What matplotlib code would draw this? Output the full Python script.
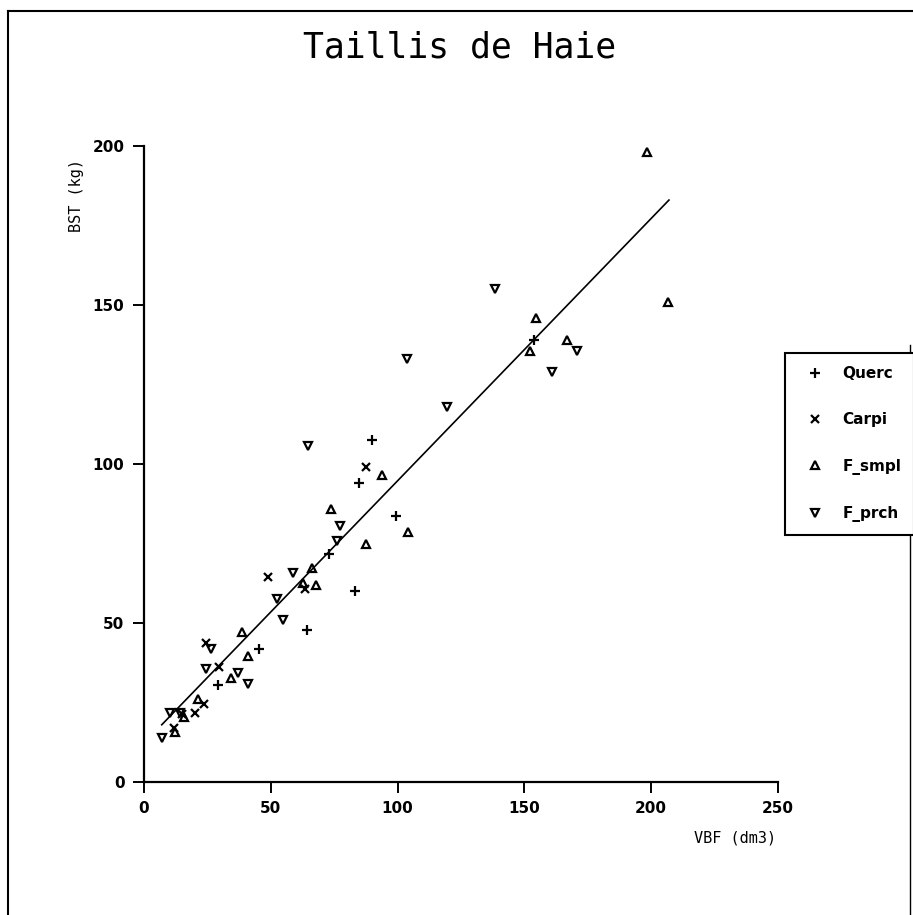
import numpy as np
import matplotlib.pyplot as plt
from matplotlib.lines import Line2D

# values
querc_x = [153.6, 89.9, 84.7, 99.4, 72.8, 83.1, 64.2, 45.2, 29.0]
querc_y = [139.0, 107.7, 93.9, 83.5, 71.8, 60.2, 47.9, 41.9, 30.6]

carpi_x = [87.5, 48.7, 63.3, 24.6, 29.5, 23.8, 15.0, 20.2, 11.9]
carpi_y = [98.9, 64.6, 60.8, 43.8, 36.2, 24.6, 21.4, 21.7, 17.0]

smpl_x = [198.3, 206.6, 154.4, 152.4, 166.7, 93.8, 73.6, 104.1, 87.5,
          66.1, 68.0, 62.7, 38.5, 41.2, 34.4, 21.4, 15.8, 12.3]
smpl_y = [198.0, 151.0, 145.8, 135.4, 139.0, 96.4, 85.7, 78.7, 75.0,
          67.4, 62.0, 62.7, 47.2, 39.7, 32.8, 26.1, 20.5, 15.7]

prch_x = [138.6, 170.6, 161.0, 103.6, 119.5, 64.5, 77.2, 76.0, 58.6,
          52.3, 55.0, 26.6, 24.6, 37.2, 41.2, 10.3, 14.3, 7.1]
prch_y = [155.0, 135.4, 128.8, 133.0, 117.8, 105.8, 80.6, 75.9, 65.8,
          57.6, 51.0, 41.9, 35.6, 34.3, 30.9, 21.7, 21.7, 13.9]

# end points of the drawn regression line
fit_x = [7.0, 207.0]
fit_y = [18.0, 183.0]

labels = ['Querc', 'Carpi', 'F_smpl', 'F_prch']

W, H = 913, 915
fig = plt.figure(figsize=(W/100, H/100), dpi=100)
ax = fig.add_axes([144/W, 1-782/H, 634/W, 636/H])

ms = 6
mew = 1.6
h1, = ax.plot(querc_x, querc_y, ls='none', marker='+', ms=ms+1, mew=mew, color='k')
h2, = ax.plot(carpi_x, carpi_y, ls='none', marker='x', ms=ms, mew=mew, color='k')
h3, = ax.plot(smpl_x, smpl_y, ls='none', marker='^', ms=ms, mew=mew, mfc='none', mec='k')
h4, = ax.plot(prch_x, prch_y, ls='none', marker='v', ms=ms, mew=mew, mfc='none', mec='k')
ax.plot(fit_x, fit_y, color='k', lw=1.2)

ax.set_xlim(0, 250)
ax.set_ylim(0, 200)
ax.set_xticks([0, 50, 100, 150, 200, 250])
ax.set_yticks([0, 50, 100, 150, 200])
for s in ['top', 'right']:
    ax.spines[s].set_visible(False)
for s in ['left', 'bottom']:
    ax.spines[s].set_linewidth(1.6)
ax.tick_params(direction='out', length=8, width=1.4, labelsize=11, pad=6)
for t in ax.get_xticklabels() + ax.get_yticklabels():
    t.set_fontweight('bold')

fig.text(460/W, 1-47/H, 'Taillis de Haie', family='DejaVu Sans Mono',
         fontsize=25, ha='center', va='center')
fig.text(76/W, 1-195/H, 'BST (kg)', rotation=90, family='DejaVu Sans Mono',
         fontsize=11, ha='center', va='center')
fig.text(776/W, 1-838/H, 'VBF (dm3)', family='DejaVu Sans Mono',
         fontsize=11, ha='right', va='center')

leg = fig.legend([h1, h2, h3, h4], labels, loc='upper left',
                 bbox_to_anchor=(785/W, 1-353/H), bbox_transform=fig.transFigure,
                 borderaxespad=0, numpoints=1, fancybox=False, framealpha=1,
                 edgecolor='k', handlelength=2.2, handletextpad=0.7,
                 borderpad=0.85, labelspacing=2.05, prop={'size': 11, 'weight': 'bold'})
leg.get_frame().set_linewidth(1.5)

# page frame of the scan
fig.add_artist(Line2D([8/W, 1], [1-11/H, 1-11/H], color='k', lw=1.5))
fig.add_artist(Line2D([8/W, 8/W], [0, 1-11/H], color='k', lw=1.5))
fig.add_artist(Line2D([910/W, 910/W], [0, 1-345/H], color='k', lw=1.0))

fig.savefig('out.png', dpi=100)
